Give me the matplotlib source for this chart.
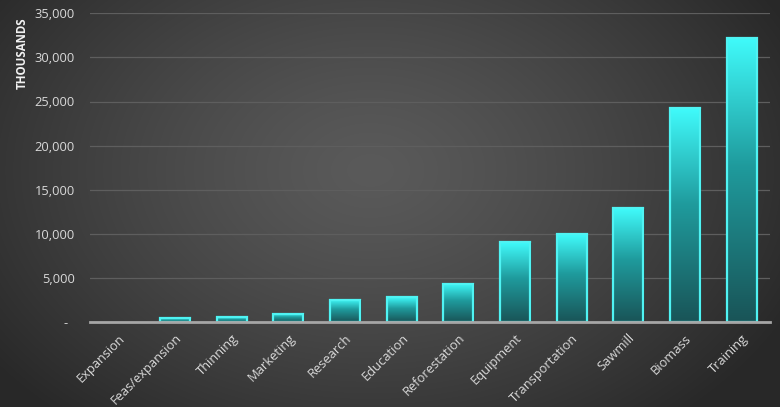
import numpy as np
import matplotlib
matplotlib.use("Agg")
import matplotlib.pyplot as plt
from matplotlib.colors import LinearSegmentedColormap

categories = ["Expansion", "Feas/expansion", "Thinning", "Marketing", "Research",
              "Education", "Reforestation", "Equipment", "Transportation",
              "Sawmill", "Biomass", "Training"]
values = [0, 420, 560, 920, 2550, 2800, 4350, 9050, 9950, 12900, 24250, 32200]
yticks = [0, 5000, 10000, 15000, 20000, 25000, 30000, 35000]
ytick_labels = ["-  ", "5,000", "10,000", "15,000", "20,000", "25,000", "30,000", "35,000"]

plt.rcParams['font.family'] = ['Open Sans', 'DejaVu Sans']

W, H = 780, 407
fig = plt.figure(figsize=(W / 100, H / 100), dpi=100)

# radial background
bg = fig.add_axes([0, 0, 1, 1])
yy, xx = np.mgrid[0:H, 0:W]
cx, cy = 370, 170
r = np.sqrt(((xx - cx) / 470.0) ** 2 + ((yy - cy) / 330.0) ** 2)
r = np.clip(r, 0, 1)
inner, outer = 0x5a / 255, 0x28 / 255
g = inner + (outer - inner) * r ** 1.3
img = np.dstack([g, g, g])
bg.imshow(img, aspect='auto', extent=[0, 1, 0, 1], origin='upper')
bg.set_axis_off()

ax = fig.add_axes([90 / W, 1 - 322 / H, 680 / W, (322 - 13.3) / H])
ax.set_facecolor('none')
ax.patch.set_alpha(0)

x = np.arange(len(categories))
width = 0.53
cmap = LinearSegmentedColormap.from_list(
    'bar', [(0.0, '#195457'), (0.55, '#1f9b9d'), (1.0, '#40fbfb')])
grad = np.linspace(1, 0, 256).reshape(-1, 1)

xs = [xi for xi, v in zip(x, values) if v > 0]
vs = [v for v in values if v > 0]
for xi, v in zip(xs, vs):
    ax.bar(xi + 0.03, v, width=width, bottom=-60, color='black', alpha=0.18,
           linewidth=0, zorder=2)
    ax.imshow(grad, cmap=cmap, aspect='auto',
              extent=[xi - width / 2, xi + width / 2, 0, v], zorder=3,
              interpolation='bilinear', vmin=0, vmax=1)
ax.bar(xs, vs, width=width, facecolor='none', edgecolor='#4ff3f3',
       linewidth=1.6, zorder=4)

ax.set_xlim(-0.5, len(categories) - 0.5)
ax.set_ylim(0, 35000)
ax.set_yticks(yticks)
ax.set_yticklabels(ytick_labels)
ax.set_xticks(x)
ax.set_xticklabels(categories, rotation=45, ha='right', va='top',
                   rotation_mode='anchor')
ax.tick_params(axis='both', length=0, colors='#d9d9d9', labelsize=9.3)
ax.tick_params(axis='y', pad=11)
ax.tick_params(axis='x', pad=7)
ax.grid(axis='y', color='#5e5e5e', linewidth=0.9, zorder=0)
ax.set_axisbelow(True)
for s in ['top', 'right', 'left']:
    ax.spines[s].set_visible(False)
ax.spines['bottom'].set_color('#a6a6a6')
ax.spines['bottom'].set_linewidth(2)
ax.spines['bottom'].set_zorder(5)

fig.text(22 / W, 1 - 17 / H, "THOUSANDS", rotation=90, ha='center', va='top',
         color='#f2f2f2', fontsize=8.3, fontweight='bold')

fig.savefig('out.png', dpi=100)
